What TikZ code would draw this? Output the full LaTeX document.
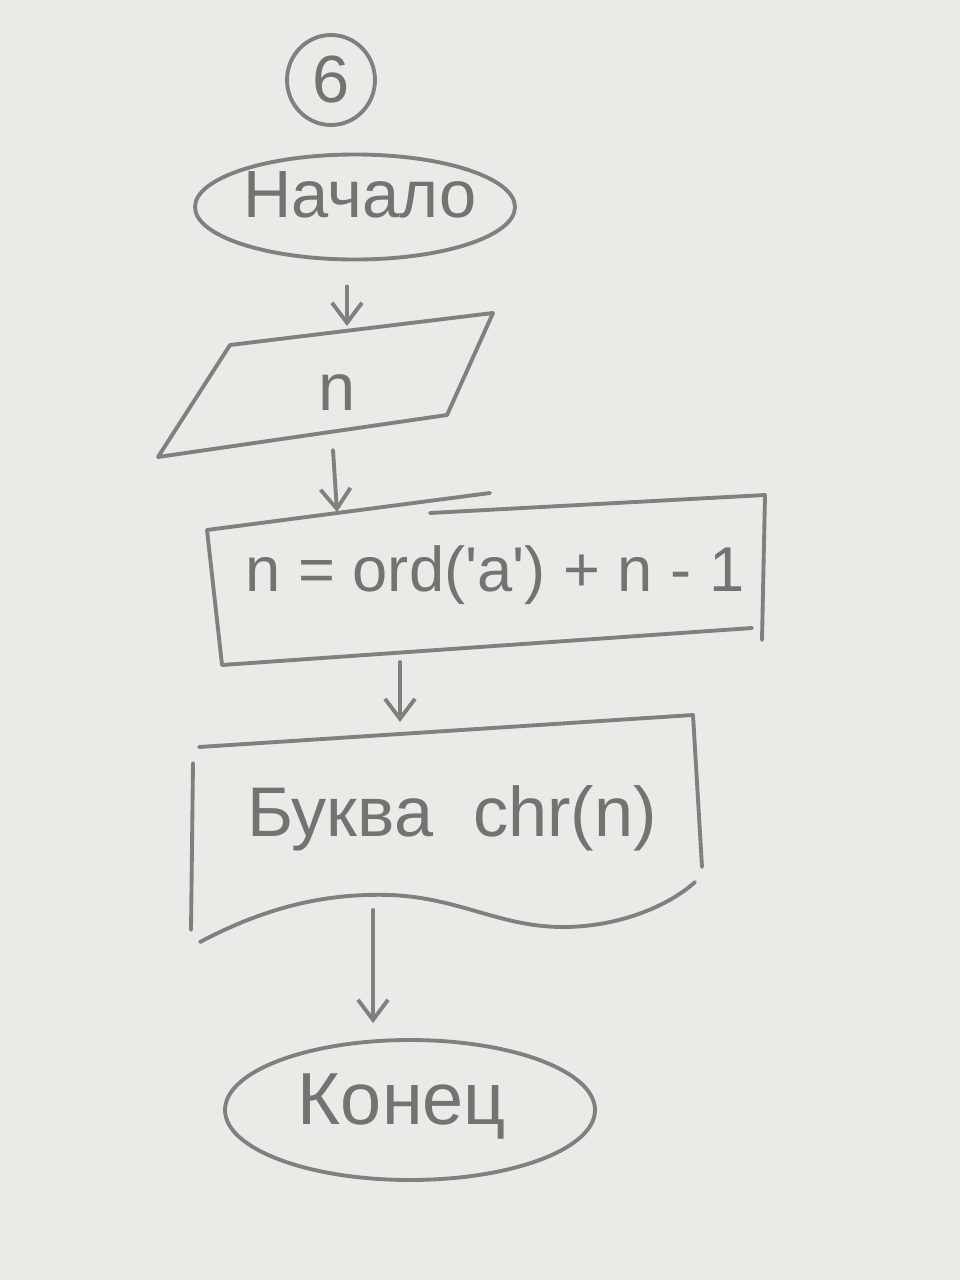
\documentclass[tikz,border=0pt]{standalone}
\usepackage{fontspec}
\setmainfont{Liberation Sans}
\usetikzlibrary{shapes.geometric,arrows.meta}
\definecolor{paper}{RGB}{234,234,230}
\definecolor{pencil}{RGB}{128,128,128}
\definecolor{lead}{RGB}{115,115,115}
\begin{document}
\begin{tikzpicture}[x=0.1mm,y=-0.1mm,
  pen/.style={draw=pencil, line width=1.1pt, line cap=round, line join=round},
  lbl/.style={text=lead, font=\fontsize{19}{23}\selectfont, inner sep=1pt},
  flow/.style={pen, -{Straight Barb[length=2mm,width=3mm]}},
]
\fill[paper] (0,0) rectangle (960,1280);

% number in circle
\node[pen, ellipse, minimum width=8.8mm, minimum height=9mm] (num) at (331,80) {};
\node[lbl] (numT) at (331,80) {6};

% start
\node[pen, ellipse, minimum width=32mm, minimum height=10.5mm] (start) at (355,207) {};
\node[lbl] (startT) at (360,195) {Начало};

% input parallelogram
\draw[pen] (230,345) -- (493,313) -- (447,415) -- (158,457) -- cycle;
\node[lbl] (inT) at (337,393) {n};
\coordinate (inTop) at (347,326);
\coordinate (inBot) at (333,450);
\coordinate (procTop) at (337,512);

% process
\draw[pen] (207,530) -- (490,493);
\draw[pen] (430,513) -- (765,495) -- (762,640);
\draw[pen] (207,530) -- (222,665) -- (752,628);
\node[lbl, font=\fontsize{18}{22}\selectfont] (procT) at (495,575) {n = ord(\textquotesingle a\textquotesingle) + n - 1};
\coordinate (procBot) at (400,662);

% output document
\draw[pen] (193,763) -- (191,930);
\draw[pen] (199,747) -- (693,715) -- (702,867);
\draw[pen] (200,942) .. controls (270,905) and (330,893) .. (391,895)
  .. controls (460,898) and (500,927) .. (563,927)
  .. controls (620,927) and (670,905) .. (695,882);
\node[lbl, font=\fontsize{20}{24}\selectfont] (outT) at (452,818) {Буква\hspace{4mm}chr(n)};
\coordinate (outTop) at (400,722);
\coordinate (outBot) at (373,910);

% end
\node[pen, ellipse, minimum width=37mm, minimum height=14mm] (end) at (410,1110) {};
\node[lbl, font=\fontsize{21}{25}\selectfont] (endT) at (402,1106) {Конец};

% connectors
\draw[flow, shorten <=2.5mm] (start.south -| inTop) -- (inTop);
\draw[flow] (inBot) -- (procTop);
\draw[flow] (procBot) -- (outTop);
\draw[flow, shorten >=1.5mm] (outBot) -- (outBot |- end.north);
\end{tikzpicture}
\end{document}
